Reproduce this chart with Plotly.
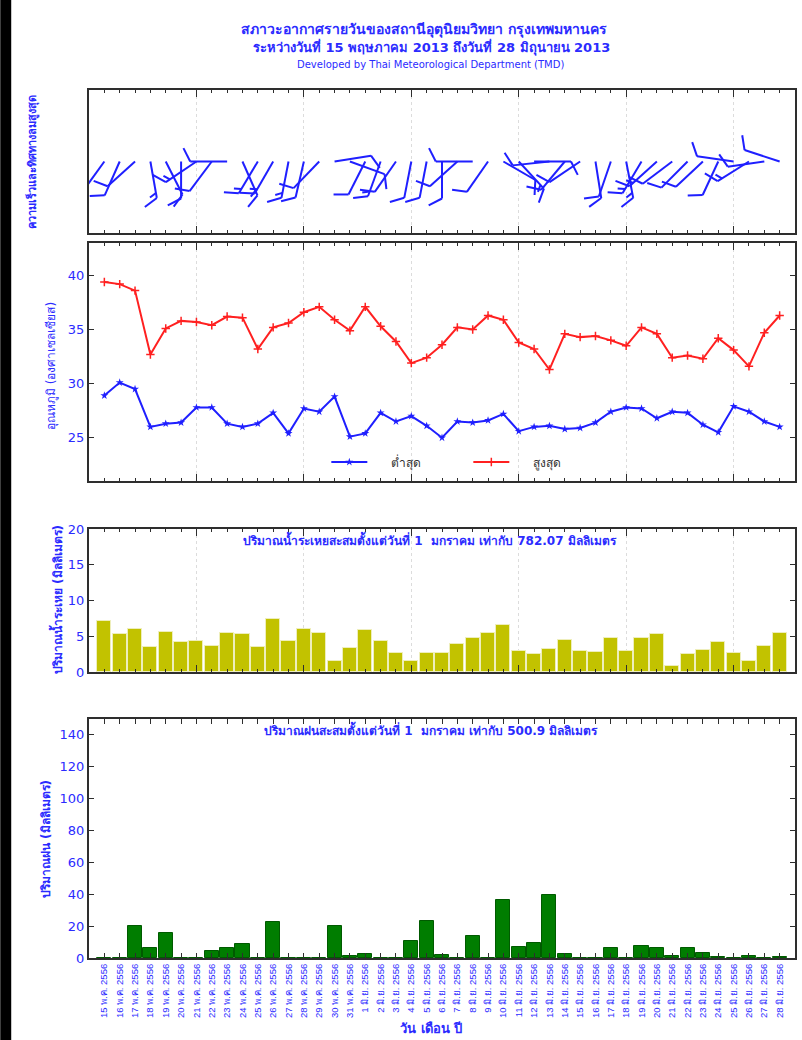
import math
import plotly.graph_objects as go

# ---------------------------------------------------------------- data
dates = [
    "15 พ.ค. 2556", "16 พ.ค. 2556", "17 พ.ค. 2556", "18 พ.ค. 2556", "19 พ.ค. 2556",
    "20 พ.ค. 2556", "21 พ.ค. 2556", "22 พ.ค. 2556", "23 พ.ค. 2556", "24 พ.ค. 2556",
    "25 พ.ค. 2556", "26 พ.ค. 2556", "27 พ.ค. 2556", "28 พ.ค. 2556", "29 พ.ค. 2556",
    "30 พ.ค. 2556", "31 พ.ค. 2556", "1 มิ.ย. 2556", "2 มิ.ย. 2556", "3 มิ.ย. 2556",
    "4 มิ.ย. 2556", "5 มิ.ย. 2556", "6 มิ.ย. 2556", "7 มิ.ย. 2556", "8 มิ.ย. 2556",
    "9 มิ.ย. 2556", "10 มิ.ย. 2556", "11 มิ.ย. 2556", "12 มิ.ย. 2556", "13 มิ.ย. 2556",
    "14 มิ.ย. 2556", "15 มิ.ย. 2556", "16 มิ.ย. 2556", "17 มิ.ย. 2556", "18 มิ.ย. 2556",
    "19 มิ.ย. 2556", "20 มิ.ย. 2556", "21 มิ.ย. 2556", "22 มิ.ย. 2556", "23 มิ.ย. 2556",
    "24 มิ.ย. 2556", "25 มิ.ย. 2556", "26 มิ.ย. 2556", "27 มิ.ย. 2556", "28 มิ.ย. 2556",
]

# maximum wind: direction the wind blows from (degrees) and speed (knots)
wind_dir = [216, 204, 228, 170, 153, 180, 236, 217, 270, 156,
            211, 210, 191, 193, 224, 81, 110, 207, 200, 215,
            191, 191, 180, 228, 270, 215, 120, 137, 90, 264,
            220, 236, 171, 199, 169, 211, 228, 233, 225, 227,
            205, 278, 238, 262, 288]
wind_speed = [10, 10, 10, 15, 10, 10, 15, 10, 10, 15,
              15, 15, 15, 10, 10, 10, 10, 10, 15, 10,
              10, 10, 10, 10, 10, 10, 10, 15, 10, 10,
              10, 10, 10, 10, 15, 15, 15, 10, 10, 10,
              10, 10, 15, 10, 10]

# daily temperatures (deg C)
t_min = [28.9, 30.1, 29.5, 26.0, 26.3, 26.4, 27.8, 27.8, 26.3, 26.0,
         26.3, 27.3, 25.4, 27.7, 27.4, 28.8, 25.1, 25.4, 27.3, 26.5,
         27.0, 26.1, 25.0, 26.5, 26.4, 26.6, 27.2, 25.6, 26.0, 26.1,
         25.8, 25.9, 26.4, 27.4, 27.8, 27.7, 26.8, 27.4, 27.3, 26.2,
         25.5, 27.9, 27.4, 26.5, 26.0]
t_max = [39.4, 39.2, 38.6, 32.7, 35.1, 35.8, 35.7, 35.4, 36.2, 36.1,
         33.2, 35.2, 35.6, 36.6, 37.1, 35.9, 34.9, 37.1, 35.3, 33.9,
         31.9, 32.4, 33.6, 35.2, 35.0, 36.3, 35.9, 33.8, 33.2, 31.3,
         34.6, 34.3, 34.4, 34.0, 33.5, 35.2, 34.6, 32.4, 32.6, 32.3,
         34.2, 33.1, 31.6, 34.7, 36.3]

# daily evaporation (mm)
evaporation = [7.1, 5.3, 6.0, 3.5, 5.6, 4.2, 4.4, 3.7, 5.4, 5.3,
               3.5, 7.4, 4.4, 6.0, 5.4, 1.5, 3.3, 5.9, 4.4, 2.6,
               1.5, 2.7, 2.6, 3.9, 4.8, 5.4, 6.6, 2.9, 2.5, 3.2,
               4.5, 3.0, 2.8, 4.8, 3.0, 4.8, 5.3, 0.9, 2.5, 3.1,
               4.2, 2.6, 1.6, 3.6, 5.4]

# daily rainfall (mm)
rainfall = [0, 0, 20.2, 6.1, 15.6, 0, 0.3, 4.4, 6.3, 9.0,
            0, 22.7, 0, 0, 0, 20.2, 1.5, 2.5, 0, 0,
            10.5, 23.3, 1.7, 0, 13.5, 0, 36.6, 7.1, 9.2, 39.7,
            2.5, 0, 0, 6.3, 0, 7.4, 6.1, 1.3, 6.3, 3.2,
            0.8, 0, 1.0, 0, 0.8]

evap_total = "782.07"
rain_total = "500.9"

# ---------------------------------------------------------------- layout constants
W, H = 802, 1040
ML, MR, MT, MB = 89, 5, 90, 82
PW, PH = W - ML - MR, H - MT - MB

BLUE_TXT = "#2b2bff"
BLUE_LINE = "#1f1fff"
RED_LINE = "#ff2020"
FRAME = "#2e2e2e"
FONT = "Tahoma, 'DejaVu Sans', Verdana, sans-serif"
NARROW = "'Liberation Sans', Arial, sans-serif"


def px_x(px):
    return (px - ML) / PW


def px_y(py):
    return (H - MB - py) / PH


# vertical extents (page pixels, top/bottom) of the four panels
panels = [(90, 233), (243, 481), (529, 672), (719, 958)]
domains = [[px_y(b), px_y(t)] for t, b in panels]

idx = list(range(len(dates)))
x_range = [-1, len(dates)]

# ---------------------------------------------------------------- wind barbs
WIND_Y = [-1, 1]
xpu = PW / (x_range[1] - x_range[0])                 # pixels per day
ypu = (panels[0][1] - panels[0][0]) / (WIND_Y[1] - WIND_Y[0])
STAFF, FEATHER, GAP, TILT = 37.0, 15.0, 5.0, 63.0

bx, by = [], []
for i, (d, s) in enumerate(zip(wind_dir, wind_speed)):
    a = math.radians(90 - d)
    ux, uy = math.cos(a), math.sin(a)
    fa = a - math.radians(TILT)
    fx, fy = math.cos(fa), math.sin(fa)
    ex, ey = ux * STAFF, uy * STAFF
    bx += [i, i + ex / xpu, None]
    by += [0, ey / ypu, None]
    pos = STAFF
    for _ in range(s // 10):
        px0, py0 = ux * pos, uy * pos
        bx += [i + px0 / xpu, i + (px0 + fx * FEATHER) / xpu, None]
        by += [py0 / ypu, (py0 + fy * FEATHER) / ypu, None]
        pos -= GAP
    if s % 10 >= 5:
        px0, py0 = ux * pos, uy * pos
        bx += [i + px0 / xpu, i + (px0 + fx * FEATHER / 2) / xpu, None]
        by += [py0 / ypu, (py0 + fy * FEATHER / 2) / ypu, None]

# ---------------------------------------------------------------- traces
PAD = "\u00a0" * 5
fig = go.Figure()
fig.add_trace(go.Scatter(x=bx, y=by, mode="lines", line=dict(color=BLUE_LINE, width=2),
                         xaxis="x", yaxis="y", showlegend=False, hoverinfo="skip"))
fig.add_trace(go.Scatter(x=idx, y=t_min, mode="lines+markers", name=PAD + "ต่ำสุด",
                         line=dict(color=BLUE_LINE, width=2),
                         marker=dict(symbol="star", size=6, color=BLUE_LINE),
                         xaxis="x2", yaxis="y2"))
fig.add_trace(go.Scatter(x=idx, y=t_max, mode="lines+markers", name=PAD + "สูงสุด",
                         line=dict(color=RED_LINE, width=2),
                         marker=dict(symbol="cross-thin-open", size=6,
                                     line=dict(color=RED_LINE, width=1.5)),
                         xaxis="x2", yaxis="y2"))
fig.add_trace(go.Bar(x=idx, y=evaporation, width=0.92,
                     marker=dict(color="#c2c200", line=dict(color="#eeeebb", width=1)),
                     xaxis="x3", yaxis="y3", showlegend=False))
fig.add_trace(go.Bar(x=idx, y=rainfall, width=0.92,
                     marker=dict(color="#007d00", line=dict(color="#005a00", width=1)),
                     xaxis="x4", yaxis="y4", showlegend=False))

# ---------------------------------------------------------------- axes
week_ticks = list(range(6, len(dates), 7))
frame = dict(showline=True, linecolor=FRAME, linewidth=2, mirror="allticks",
             ticks="inside", tickcolor=FRAME, zeroline=False)

for n in range(1, 4):
    fig.update_layout(**{
        f"xaxis{'' if n == 1 else n}": dict(
            frame, domain=[0, 1], anchor=f"y{'' if n == 1 else n}", range=x_range,
            tickmode="array", tickvals=week_ticks, ticklen=7, showticklabels=False,
            showgrid=True, gridcolor="#dcdcdc", griddash="dot", gridwidth=1,
            minor=dict(dtick=1, tick0=0, ticklen=3, ticks="inside",
                       tickcolor=FRAME, showgrid=False))
    })

ytick_font = dict(family=FONT, size=13, color=BLUE_TXT)
fig.update_layout(
    xaxis4=dict(frame, domain=[0, 1], anchor="y4", range=x_range,
                tickmode="array", tickvals=idx, ticktext=dates, ticklen=5,
                tickangle=-90, showgrid=False,
                tickfont=dict(family=NARROW, size=9.5, color=BLUE_TXT)),
    yaxis=dict(frame, domain=domains[0], anchor="x", range=WIND_Y,
               showticklabels=False, ticks="", showgrid=False),
    yaxis2=dict(frame, domain=domains[1], anchor="x2", range=[21, 43],
                tickvals=[25, 30, 35, 40], ticklen=5, showgrid=False, tickfont=ytick_font),
    yaxis3=dict(frame, domain=domains[2], anchor="x3", range=[0, 20],
                tickvals=[0, 5, 10, 15, 20], ticklen=5, showgrid=False, tickfont=ytick_font),
    yaxis4=dict(frame, domain=domains[3], anchor="x4", range=[0, 150],
                tickvals=list(range(0, 141, 20)), ticklen=5, showgrid=False,
                tickfont=ytick_font),
)

# ---------------------------------------------------------------- text
ann = []


def text(s, x, y, size, bold=False, angle=0, xanchor="center", family=FONT):
    ann.append(dict(text=f"<b>{s}</b>" if bold else s, x=px_x(x), y=px_y(y),
                    xref="paper", yref="paper", showarrow=False, textangle=angle,
                    xanchor=xanchor, yanchor="middle",
                    font=dict(family=family, size=size, color=BLUE_TXT)))


text("สภาวะอากาศรายวันของสถานีอุตุนิยมวิทยา กรุงเทพมหานคร", 425, 29, 14, bold=True)
text("ระหว่างวันที่ 15 พฤษภาคม 2013 ถึงวันที่ 28 มิถุนายน 2013", 432, 47, 13, bold=True)
text("Developed by Thai Meteorological Department (TMD)", 431, 65, 10)

text("ความเร็วและทิศทางลมสูงสุด", 33, 162, 11, bold=True, angle=-90)
text("อุณหภูมิ (องศาเซลเซียส)", 52, 366, 12, angle=-90)
text("ปริมาณน้ำระเหย (มิลลิเมตร)", 56, 600, 12, bold=True, angle=-90)
text("ปริมาณฝน (มิลลิเมตร)", 46, 839, 12, bold=True, angle=-90)
text("วัน เดือน ปี", 432, 1028, 13, bold=True)

text(f"ปริมาณน้ำระเหยสะสมตั้งแต่วันที่ 1  มกราคม เท่ากับ {evap_total} มิลลิเมตร", 431, 539, 12, bold=True)
text(f"ปริมาณฝนสะสมตั้งแต่วันที่ 1  มกราคม เท่ากับ {rain_total} มิลลิเมตร", 432, 729, 12, bold=True)

fig.update_layout(
    width=W, height=H,
    margin=dict(l=ML, r=MR, t=MT, b=MB, pad=0),
    paper_bgcolor="white", plot_bgcolor="white",
    annotations=ann,
    shapes=[dict(type="rect", xref="paper", yref="paper",
                 x0=px_x(0), x1=px_x(11), y0=px_y(H), y1=px_y(0),
                 fillcolor="black", line=dict(width=0), layer="below")],
    showlegend=True,
    legend=dict(orientation="h", x=px_x(327), y=px_y(462), xanchor="left", yanchor="middle",
                bgcolor="rgba(0,0,0,0)", entrywidth=91, itemwidth=36,
                font=dict(family=FONT, size=12, color="#333333")),
    bargap=0,
)

fig.write_html("out.html")
